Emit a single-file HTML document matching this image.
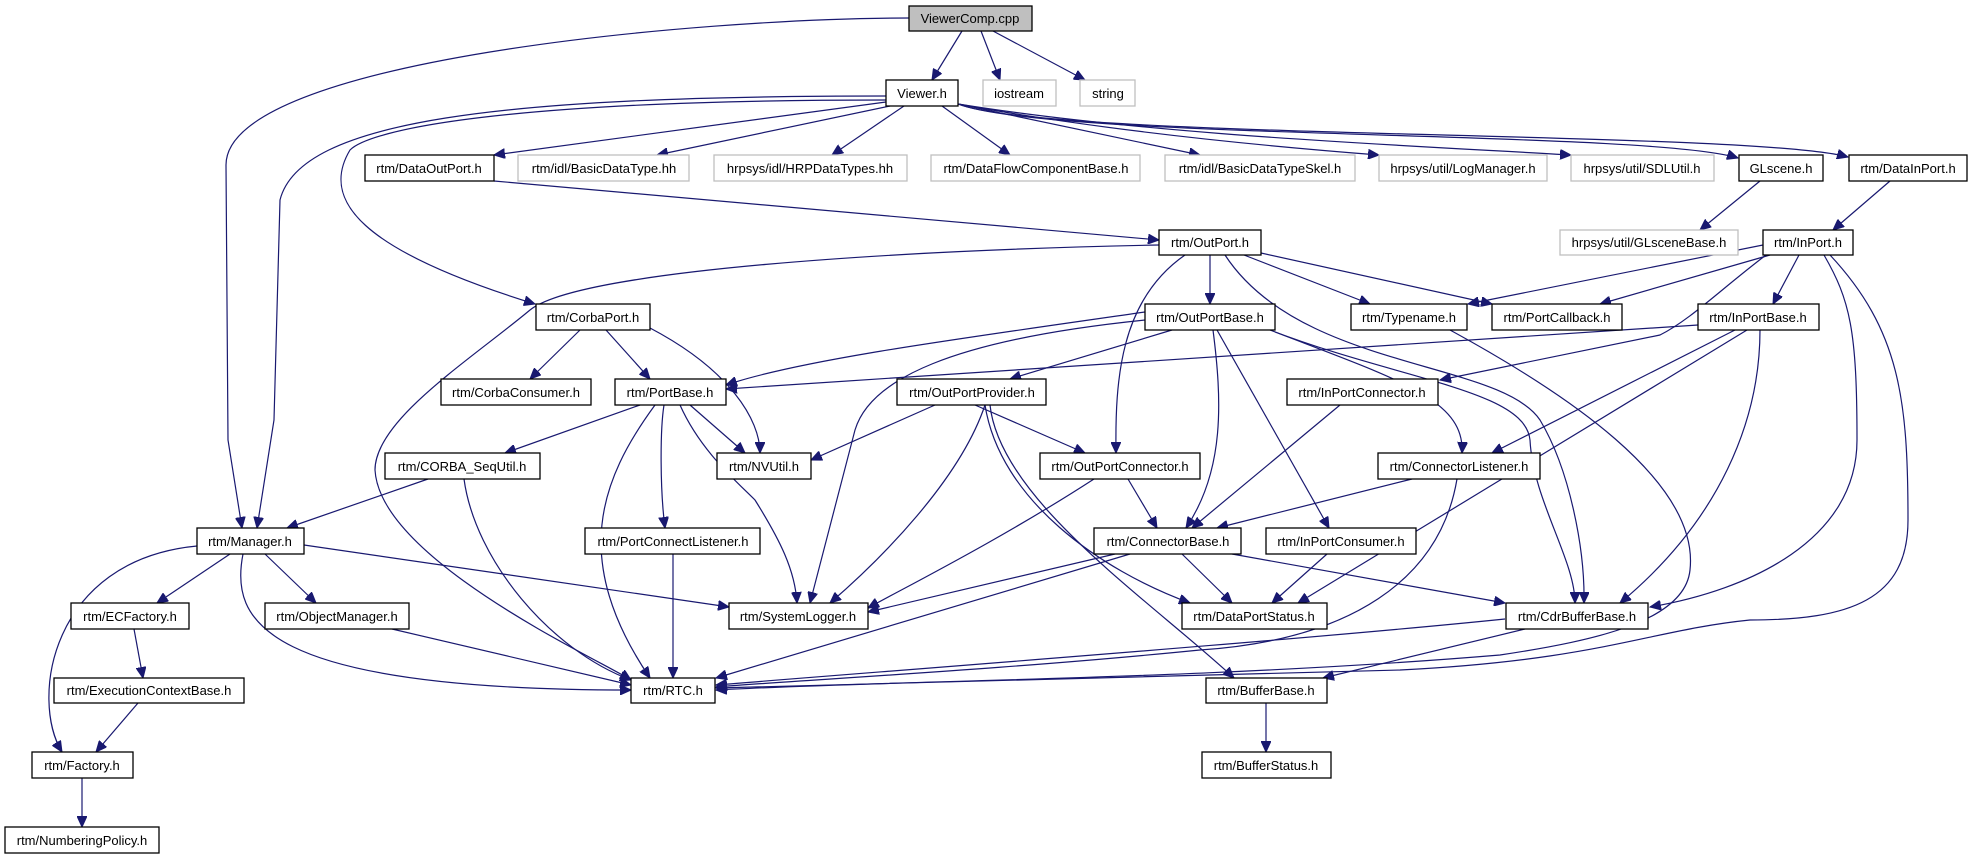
<!DOCTYPE html>
<html><head><meta charset="utf-8"><style>
html,body{margin:0;padding:0;background:#fff;}
svg{display:block;}
text{font-family:"Liberation Sans",sans-serif;font-size:13px;fill:#000;}
.e{fill:none;stroke:#191970;stroke-width:1.2;marker-end:url(#a);}
.b{fill:#fff;stroke:#000;stroke-width:1.3;}
.g{fill:#fff;stroke:#bfbfbf;stroke-width:1.3;}
</style></head><body>
<svg width="1972" height="859" viewBox="0 0 1972 859" xmlns="http://www.w3.org/2000/svg">
<defs><marker id="a" markerUnits="userSpaceOnUse" markerWidth="12" markerHeight="10" refX="11" refY="5" orient="auto"><path d="M0,0 L11,5 L0,10 z" fill="#191970" stroke="#191970"/></marker></defs>
<g>
<path class="e" d="M909,18 C700,18 226,60 226,165 L228,440 L242,528"/>
<path class="e" d="M962,31 L932,80"/>
<path class="e" d="M981,31 L1000,80"/>
<path class="e" d="M993,31 L1085,80"/>
<path class="e" d="M886,102 L494,155"/>
<path class="e" d="M890,106 L657,155"/>
<path class="e" d="M904,106 L832,155"/>
<path class="e" d="M942,106 L1010,155"/>
<path class="e" d="M958,104 L1200,155"/>
<path class="e" d="M958,104 C1100,130 1250,145 1379,155"/>
<path class="e" d="M958,104 C1150,135 1400,145 1571,155"/>
<path class="e" d="M958,104 C1050,140 1650,130 1738,158"/>
<path class="e" d="M958,104 C1050,140 1750,130 1848,157"/>
<path class="e" d="M886,96 C500,96 300,120 280,200 L274,420 L257,528"/>
<path class="e" d="M886,100 C500,100 370,130 350,150 C320,200 360,250 535,304"/>
<path class="e" d="M494,181 L1159,240"/>
<path class="e" d="M1760,181 L1700,230"/>
<path class="e" d="M1890,181 L1833,230"/>
<path class="e" d="M1159,245 C900,250 580,270 530,310 C470,360 375,420 375,470 C380,560 600,660 631,680"/>
<path class="e" d="M1210,255 L1210,304"/>
<path class="e" d="M1244,255 L1370,304"/>
<path class="e" d="M1261,253 L1492,304"/>
<path class="e" d="M1185,255 C1120,300 1115,380 1116,453"/>
<path class="e" d="M1225,255 C1300,370 1500,360 1540,420 C1570,470 1585,550 1584,603"/>
<path class="e" d="M1270,330 C1400,380 1525,390 1530,440 C1533,500 1575,560 1575,603"/>
<path class="e" d="M1275,332 C1400,380 1465,400 1462,453"/>
<path class="e" d="M1450,330 C1560,390 1700,480 1690,570 C1685,620 1600,640 1500,655 C1200,680 900,680 716,690"/>
<path class="e" d="M1763,245 L1468,304"/>
<path class="e" d="M1770,255 L1600,304"/>
<path class="e" d="M1799,255 L1773,304"/>
<path class="e" d="M1766,255 C1720,290 1690,320 1660,335 L1440,380"/>
<path class="e" d="M1824,255 C1850,300 1857,330 1857,440 C1857,540 1750,590 1650,607"/>
<path class="e" d="M1830,255 C1900,330 1908,400 1908,520 C1908,600 1850,620 1750,620 C1650,630 1600,660 1400,670 L716,688"/>
<path class="e" d="M580,330 L530,379"/>
<path class="e" d="M606,330 L650,379"/>
<path class="e" d="M650,328 C730,370 760,420 760,453"/>
<path class="e" d="M1145,312 C950,340 800,360 726,385"/>
<path class="e" d="M1145,320 C950,340 870,380 855,430 L810,603"/>
<path class="e" d="M1172,330 L1010,379"/>
<path class="e" d="M1213,330 C1222,400 1225,470 1186,528"/>
<path class="e" d="M1217,330 L1329,528"/>
<path class="e" d="M1698,325 L726,389"/>
<path class="e" d="M1735,330 L1492,453"/>
<path class="e" d="M1747,330 L1298,603"/>
<path class="e" d="M1760,330 C1760,420 1720,520 1620,603"/>
<path class="e" d="M640,405 L505,453"/>
<path class="e" d="M690,405 L745,453"/>
<path class="e" d="M655,405 C600,480 570,560 650,678"/>
<path class="e" d="M664,405 C660,430 660,490 665,528"/>
<path class="e" d="M680,405 C700,450 735,480 755,500 C780,540 795,570 797,603"/>
<path class="e" d="M935,405 L811,460"/>
<path class="e" d="M975,405 L1085,453"/>
<path class="e" d="M985,405 C960,480 880,560 830,603"/>
<path class="e" d="M985,405 C1000,500 1100,570 1190,603"/>
<path class="e" d="M990,405 C1000,500 1150,600 1234,678"/>
<path class="e" d="M1340,405 L1192,528"/>
<path class="e" d="M428,479 L287,528"/>
<path class="e" d="M464,479 C475,560 550,650 631,680"/>
<path class="e" d="M1128,479 L1157,528"/>
<path class="e" d="M1094,479 C1000,540 900,590 868,608"/>
<path class="e" d="M1412,479 L1217,528"/>
<path class="e" d="M1457,479 C1440,580 1350,640 1200,650 C1000,670 800,680 716,687"/>
<path class="e" d="M230,554 L157,603"/>
<path class="e" d="M265,554 L316,603"/>
<path class="e" d="M304,545 L729,607"/>
<path class="e" d="M243,554 C230,620 260,690 631,690"/>
<path class="e" d="M197,546 C50,560 30,700 62,752"/>
<path class="e" d="M673,554 L673,678"/>
<path class="e" d="M1115,554 L868,612"/>
<path class="e" d="M1130,554 L716,678"/>
<path class="e" d="M1182,554 L1232,603"/>
<path class="e" d="M1232,554 L1505,603"/>
<path class="e" d="M1327,554 L1272,603"/>
<path class="e" d="M134,629 L143,678"/>
<path class="e" d="M138,703 L96,752"/>
<path class="e" d="M392,629 L631,685"/>
<path class="e" d="M1505,619 C1300,640 900,670 716,685"/>
<path class="e" d="M1525,629 L1323,678"/>
<path class="e" d="M1266,703 L1266,752"/>
<path class="e" d="M82,778 L82,827"/>
</g>
<g>
<rect x="909" y="6" width="123" height="25" fill="#bfbfbf" stroke="#000" stroke-width="1.3"/><text x="970" y="23" text-anchor="middle">ViewerComp.cpp</text>
<rect class="b" x="886" y="80" width="72" height="26"/><text x="922" y="98" text-anchor="middle">Viewer.h</text>
<rect class="g" x="983" y="80" width="73" height="26"/><text x="1019" y="98" text-anchor="middle">iostream</text>
<rect class="g" x="1080" y="80" width="55" height="26"/><text x="1108" y="98" text-anchor="middle">string</text>
<rect class="b" x="365" y="155" width="129" height="26"/><text x="429" y="173" text-anchor="middle">rtm/DataOutPort.h</text>
<rect class="g" x="518" y="155" width="171" height="26"/><text x="604" y="173" text-anchor="middle">rtm/idl/BasicDataType.hh</text>
<rect class="g" x="714" y="155" width="193" height="26"/><text x="810" y="173" text-anchor="middle">hrpsys/idl/HRPDataTypes.hh</text>
<rect class="g" x="931" y="155" width="209" height="26"/><text x="1036" y="173" text-anchor="middle">rtm/DataFlowComponentBase.h</text>
<rect class="g" x="1165" y="155" width="190" height="26"/><text x="1260" y="173" text-anchor="middle">rtm/idl/BasicDataTypeSkel.h</text>
<rect class="g" x="1379" y="155" width="168" height="26"/><text x="1463" y="173" text-anchor="middle">hrpsys/util/LogManager.h</text>
<rect class="g" x="1571" y="155" width="143" height="26"/><text x="1642" y="173" text-anchor="middle">hrpsys/util/SDLUtil.h</text>
<rect class="b" x="1739" y="155" width="84" height="26"/><text x="1781" y="173" text-anchor="middle">GLscene.h</text>
<rect class="b" x="1849" y="155" width="118" height="26"/><text x="1908" y="173" text-anchor="middle">rtm/DataInPort.h</text>
<rect class="b" x="1159" y="230" width="102" height="25"/><text x="1210" y="247" text-anchor="middle">rtm/OutPort.h</text>
<rect class="g" x="1560" y="230" width="178" height="25"/><text x="1649" y="247" text-anchor="middle">hrpsys/util/GLsceneBase.h</text>
<rect class="b" x="1763" y="230" width="90" height="25"/><text x="1808" y="247" text-anchor="middle">rtm/InPort.h</text>
<rect class="b" x="536" y="304" width="114" height="26"/><text x="593" y="322" text-anchor="middle">rtm/CorbaPort.h</text>
<rect class="b" x="1145" y="304" width="130" height="26"/><text x="1210" y="322" text-anchor="middle">rtm/OutPortBase.h</text>
<rect class="b" x="1351" y="304" width="116" height="26"/><text x="1409" y="322" text-anchor="middle">rtm/Typename.h</text>
<rect class="b" x="1492" y="304" width="130" height="26"/><text x="1557" y="322" text-anchor="middle">rtm/PortCallback.h</text>
<rect class="b" x="1698" y="304" width="121" height="26"/><text x="1758" y="322" text-anchor="middle">rtm/InPortBase.h</text>
<rect class="b" x="441" y="379" width="150" height="26"/><text x="516" y="397" text-anchor="middle">rtm/CorbaConsumer.h</text>
<rect class="b" x="615" y="379" width="111" height="26"/><text x="670" y="397" text-anchor="middle">rtm/PortBase.h</text>
<rect class="b" x="897" y="379" width="149" height="26"/><text x="972" y="397" text-anchor="middle">rtm/OutPortProvider.h</text>
<rect class="b" x="1287" y="379" width="151" height="26"/><text x="1362" y="397" text-anchor="middle">rtm/InPortConnector.h</text>
<rect class="b" x="385" y="453" width="155" height="26"/><text x="462" y="471" text-anchor="middle">rtm/CORBA_SeqUtil.h</text>
<rect class="b" x="717" y="453" width="94" height="26"/><text x="764" y="471" text-anchor="middle">rtm/NVUtil.h</text>
<rect class="b" x="1040" y="453" width="160" height="26"/><text x="1120" y="471" text-anchor="middle">rtm/OutPortConnector.h</text>
<rect class="b" x="1378" y="453" width="162" height="26"/><text x="1459" y="471" text-anchor="middle">rtm/ConnectorListener.h</text>
<rect class="b" x="197" y="528" width="107" height="26"/><text x="250" y="546" text-anchor="middle">rtm/Manager.h</text>
<rect class="b" x="585" y="528" width="175" height="26"/><text x="673" y="546" text-anchor="middle">rtm/PortConnectListener.h</text>
<rect class="b" x="1094" y="528" width="147" height="26"/><text x="1168" y="546" text-anchor="middle">rtm/ConnectorBase.h</text>
<rect class="b" x="1266" y="528" width="150" height="26"/><text x="1341" y="546" text-anchor="middle">rtm/InPortConsumer.h</text>
<rect class="b" x="71" y="603" width="118" height="26"/><text x="130" y="621" text-anchor="middle">rtm/ECFactory.h</text>
<rect class="b" x="265" y="603" width="144" height="26"/><text x="337" y="621" text-anchor="middle">rtm/ObjectManager.h</text>
<rect class="b" x="729" y="603" width="139" height="26"/><text x="798" y="621" text-anchor="middle">rtm/SystemLogger.h</text>
<rect class="b" x="1182" y="603" width="145" height="26"/><text x="1254" y="621" text-anchor="middle">rtm/DataPortStatus.h</text>
<rect class="b" x="1506" y="603" width="142" height="26"/><text x="1577" y="621" text-anchor="middle">rtm/CdrBufferBase.h</text>
<rect class="b" x="54" y="678" width="190" height="25"/><text x="149" y="695" text-anchor="middle">rtm/ExecutionContextBase.h</text>
<rect class="b" x="631" y="678" width="84" height="25"/><text x="673" y="695" text-anchor="middle">rtm/RTC.h</text>
<rect class="b" x="1206" y="678" width="121" height="25"/><text x="1266" y="695" text-anchor="middle">rtm/BufferBase.h</text>
<rect class="b" x="32" y="752" width="101" height="26"/><text x="82" y="770" text-anchor="middle">rtm/Factory.h</text>
<rect class="b" x="1202" y="752" width="129" height="26"/><text x="1266" y="770" text-anchor="middle">rtm/BufferStatus.h</text>
<rect class="b" x="5" y="827" width="154" height="26"/><text x="82" y="845" text-anchor="middle">rtm/NumberingPolicy.h</text>
</g>
</svg>
</body></html>
